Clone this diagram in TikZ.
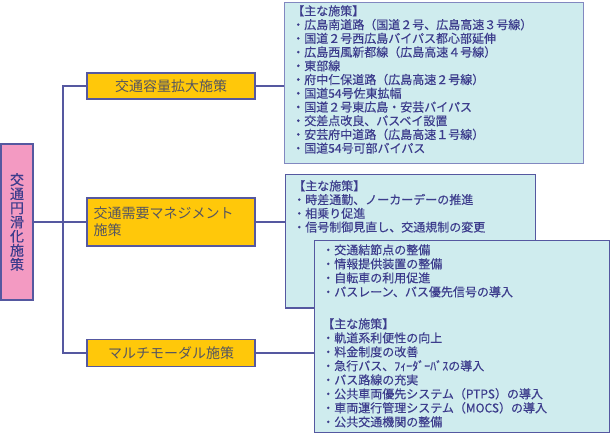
\documentclass[tikz,border=0pt]{standalone}
\usepackage{fontspec}
\setmainfont[BoldFont={Noto Sans CJK JP},BoldFeatures={FakeBold=0.3}]{Noto Sans CJK JP}
\usetikzlibrary{positioning}
\definecolor{navy}{HTML}{3C3C8C}
\definecolor{edge}{HTML}{5558A0}
\definecolor{edgelight}{HTML}{8288C0}
\definecolor{sky}{HTML}{CFECEE}
\definecolor{gold}{HTML}{FFC80A}
\definecolor{rose}{HTML}{F39AC2}
\definecolor{graytext}{HTML}{555560}
\tikzset{
  rootbox/.style={draw=edge,fill=rose,line width=1pt,minimum width=24pt,minimum height=117pt,inner sep=0pt,text=navy,font=\fontsize{10.5pt}{10.6pt}\selectfont\bfseries,align=center},
  measurebox/.style={draw=edge,fill=gold,line width=1pt,minimum width=126pt,inner sep=0pt,text=graytext,font=\fontsize{10.5pt}{12.5pt}\selectfont},
  listbox/.style={draw=edge,fill=sky,line width=1pt,inner sep=0pt,anchor=north west},
  listtext/.style={anchor=north west,inner sep=0pt,text=navy,align=left,font=\fontsize{9pt}{10.3pt}\selectfont\bfseries},
  link/.style={draw=edge,line width=1pt}
}
\begin{document}
\begin{tikzpicture}[x=0.75pt,y=-0.75pt]
\useasboundingbox (0,0) rectangle (610,434);
% root
\node[rootbox] (main) at (17,222) {交\\通\\円\\滑\\化\\施\\策};
% measures
\node[measurebox,minimum height=19.5pt] (cap) at (171,86) {交通容量拡大施策};
\node[measurebox,minimum height=36pt,align=left,text width=116pt] (tdm) at (171,222) {交通需要マネジメント\\施策};
\node[measurebox,minimum height=20pt] (mm) at (171,353) {マルチモーダル施策};
% lists
\node[listbox,draw=edgelight,minimum width=224pt,minimum height=120.5pt] (capL) at (284,2) {};
\node[listtext] (capT) at (292,5) {【主な施策】\\
・広島南道路（国道２号、広島高速３号線）\\
・国道２号西広島バイパス都心部延伸\\
・広島西風新都線（広島高速４号線）\\
・東部線\\
・府中仁保道路（広島高速２号線）\\
・国道54号佐東拡幅\\
・国道２号東広島・安芸バイパス\\
・交差点改良、バスベイ設置\\
・安芸府中道路（広島高速１号線）\\
・国道54号可部バイパス};
\node[listbox,minimum width=187.5pt,minimum height=100pt] (tdmL) at (285,174) {};
\node[listtext] (tdmT) at (293,180) {【主な施策】\\
・時差通勤、ノーカーデーの推進\\
・相乗り促進\\
・信号制御見直し、交通規制の変更};
\node[listbox,minimum width=221pt,minimum height=144pt] (mmL) at (314,240) {};
\node[listtext,font=\fontsize{9pt}{10.5pt}\selectfont\bfseries] (mmA) at (322,244) {・交通結節点の整備\\
・情報提供装置の整備\\
・自転車の利用促進\\
・バスレーン、バス優先信号の導入};
\node[listtext,font=\fontsize{9pt}{10.5pt}\selectfont\bfseries] (mmB) at (322,318) {【主な施策】\\
・軌道系利便性の向上\\
・料金制度の改善\\
・急行バス、ﾌｨｰﾀﾞｰﾊﾞｽの導入\\
・バス路線の充実\\
・公共車両優先システム（PTPS）の導入\\
・車両運行管理システム（MOCS）の導入\\
・公共交通機関の整備};
% connectors
\coordinate (trunk) at (63,222);
\draw[link] (main.east) -- (tdm.west);
\draw[link] (cap.west) -| (trunk) |- (mm.west);
\draw[link] (cap.east) -- (capL.west |- cap.east);
\draw[link] (tdm.east) -- (tdmL.west |- tdm.east);
\draw[link] (mm.east) -- (mmL.west |- mm.east);
\end{tikzpicture}
\end{document}
